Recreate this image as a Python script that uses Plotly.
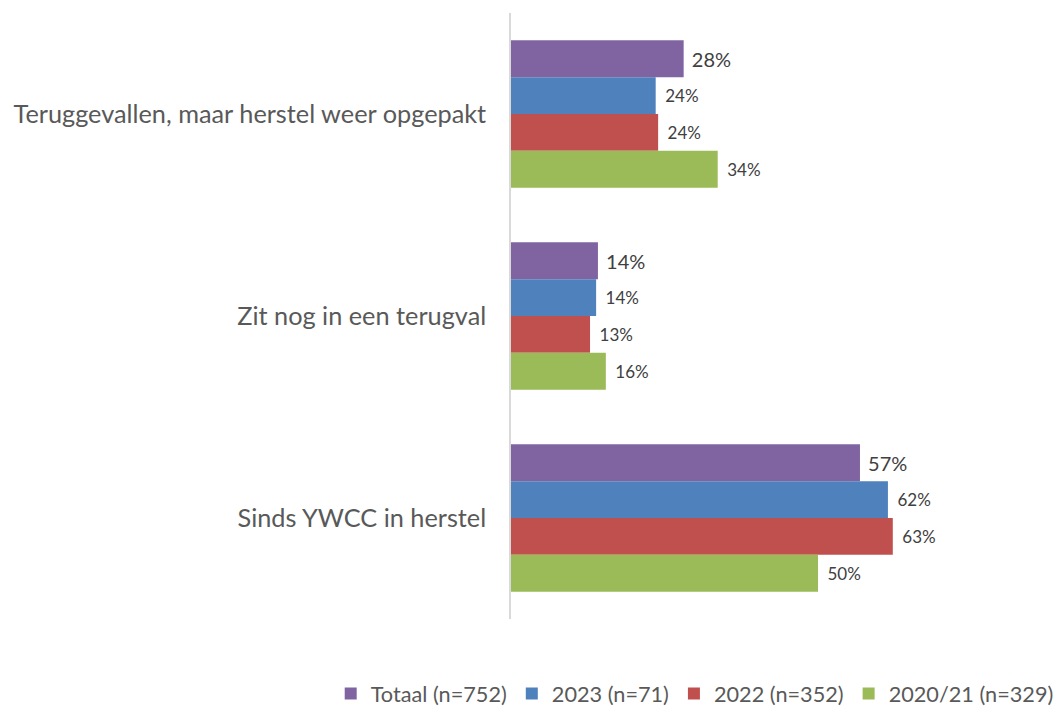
import plotly.graph_objects as go

categories = ["Teruggevallen, maar herstel weer opgepakt", "Zit nog in een terugval", "Sinds YWCC in herstel"]
series_names = ["Totaal (n=752)", "2023 (n=71)", "2022 (n=352)", "2020/21 (n=329)"]
totaal = [28.4, 14.3, 57.4]
y2023 = [23.8, 14.0, 62.0]
y2022 = [24.2, 13.0, 62.8]
y2020_21 = [34.0, 15.6, 50.5]

values = [totaal, y2023, y2022, y2020_21]
colors = ["#8064A2", "#4F81BD", "#C0504D", "#9BBB59"]
label_sizes = [20, 17, 17, 17]
label_pads = ["\u00a0", "\u00a0\u2009", "\u00a0\u2009", "\u00a0\u2009"]

FONT = "Lato, Noto Sans, sans-serif"

fig = go.Figure()
for name, vals, col, fs, pad in zip(series_names, values, colors, label_sizes, label_pads):
    fig.add_trace(go.Bar(
        y=categories, x=vals, name=name, orientation="h",
        marker=dict(color=col, line=dict(width=0)),
        text=[pad + f"{round(v)}%" for v in vals],
        textposition="outside", cliponaxis=False,
        textfont=dict(size=fs, color="#404040", family=FONT),
        hoverinfo="skip",
    ))

fig.update_layout(
    width=1061, height=708,
    barmode="group", bargap=0.27, bargroupgap=0,
    margin=dict(l=511, r=15, t=13, b=89, autoexpand=False),
    plot_bgcolor="white", paper_bgcolor="white",
    font=dict(family=FONT, color="#595959"),
    xaxis=dict(range=[0, 88], visible=False, fixedrange=True),
    yaxis=dict(autorange="reversed", categoryorder="array", categoryarray=categories,
               showline=True, linecolor="#d9d9d9", linewidth=1.5, fixedrange=True,
               ticks="", tickfont=dict(size=25.3, color="#595959", family=FONT),
               ticklabelstandoff=18, showgrid=False, zeroline=False),
    legend=dict(orientation="h", x=-0.337, xanchor="left",
                y=-0.1235, yanchor="middle",
                font=dict(size=21.7, color="#595959", family=FONT), traceorder="normal",
                itemwidth=30),
    showlegend=True,
)

fig.write_html("out.html", post_script="document.body.style.margin='0';",
               config={"displayModeBar": False})
